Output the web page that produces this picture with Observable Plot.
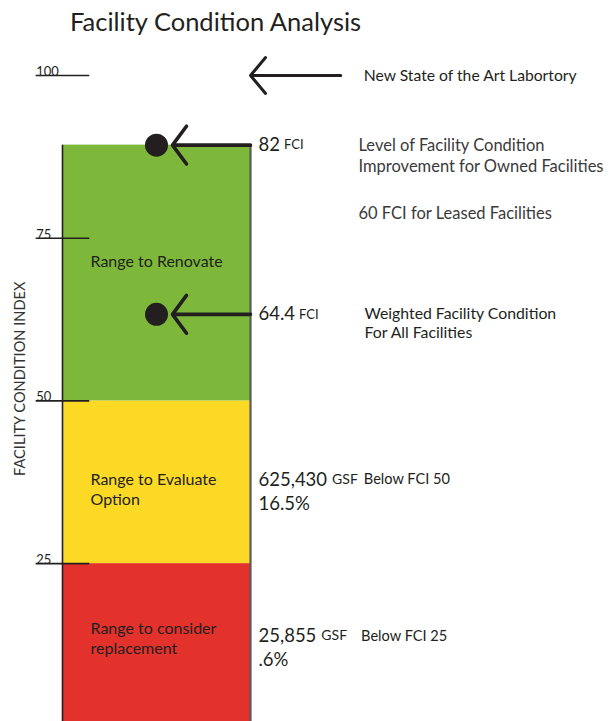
<!DOCTYPE html>
<html><head><meta charset="utf-8">
<script src="https://cdn.jsdelivr.net/npm/d3@7"></script>
<script src="https://cdn.jsdelivr.net/npm/@observablehq/plot@0.6"></script>
<style>
body{margin:0;background:#fff;width:611px;height:721px;overflow:hidden;font-family:Lato,sans-serif;}
#title{height:40px;line-height:42px;font-size:25.5px;padding-left:70px;color:#231f20;white-space:nowrap;overflow:hidden;}
#chart svg{display:block;}
</style></head><body>
<div id="title">Facility Condition Analysis</div>
<div id="chart"></div>
<script>
// ---- data ----
const yTicks = [25, 50, 75, 100];
const axisTitle = "FACILITY CONDITION INDEX";

const bandNames = ["Range to consider\nreplacement", "Range to Evaluate\nOption", "Range to Renovate"];
const bandLow = [0, 25, 50];
const bandHigh = [25, 50, 89.3];          // green band top as drawn
const bandLabelLevel = [14.9, 37.8, 71.3]; // where each band label sits (as drawn)

const topLevel = 100;
const topNote = "New State of the Art Labortory";

const markerFCI = ["82", "64.4"];
const markerLevel = [89.3, 63.3];          // arrow heights as drawn
const markerNotes = ["Level of Facility Condition\nImprovement for Owned Facilities", "Weighted Facility Condition\nFor All Facilities"];
const leasedNote = "60 FCI for Leased Facilities";
const leasedLevel = 78.8;

const gsfValues = ["625,430", "25,855"];
const gsfShares = ["16.5%", ".6%"];
const gsfThresholds = [50, 25];
const gsfLevel = [37.9, 13.9];
const shareLevel = [34.2, 10.1];

// ---- build ----
const ink = "#231f20";
const bandColors = ["#e3322c", "#fcd925", "#7db83b"];
const bands = bandNames.map((name, i) => ({name, lo: bandLow[i], hi: bandHigh[i], at: bandLabelLevel[i], color: bandColors[i]}));
const markers = markerFCI.map((fci, i) => ({fci, level: markerLevel[i], note: markerNotes[i]}));
const gsfRows = gsfValues.map((v, i) => ({v, share: gsfShares[i], thr: gsfThresholds[i], level: gsfLevel[i], shareAt: shareLevel[i]}));

const ctx = document.createElement("canvas").getContext("2d");
const textWidth = (s, size) => { ctx.font = `${size}px Lato`; return ctx.measureText(s).width; };

const bigSize = 18.5, unitSize = 13, noteSize = 16;

const marks = [
  // colour bands
  Plot.rect(bands, {x1: 0, x2: 100, y1: "lo", y2: "hi", fill: "color"}),
  // column edges
  Plot.ruleX([0], {y1: 0, y2: bandHigh[2], stroke: ink, strokeWidth: 1.6}),
  Plot.ruleX([100], {y1: 0, y2: bandHigh[2], stroke: "#5a5a5a", strokeWidth: 2.2}),
  // ticks
  Plot.ruleY(yTicks, {x1: -14, x2: 14.5, stroke: ink, strokeWidth: 1.6}),
  Plot.text(yTicks, {x: -14, y: d => d, text: d => String(d), textAnchor: "start", lineAnchor: "bottom", dy: 0.5, fontSize: 13, fill: ink}),
  Plot.text([axisTitle], {x: -22.3, y: 53.4, text: d => d, rotate: -90, fontSize: 14.6, fill: "#333"}),
  // band labels
  Plot.text(bands, {x: 0, y: "at", text: "name", dx: 28, textAnchor: "start", lineAnchor: "top", dy: -9.5, fontSize: noteSize, lineHeight: 1.25, fill: ink}),
  // top arrow
  Plot.arrow([topLevel], {x1: 148, x2: 100, y1: d => d, y2: d => d, stroke: ink, strokeWidth: 3, headAngle: 100, headLength: 11.7}),
  Plot.text([topNote], {x: 148, y: topLevel, text: d => d, dx: 23, textAnchor: "start", fontSize: 15.7, fill: ink}),
  // markers
  Plot.arrow(markers, {x1: 100, x2: 50, y1: "level", y2: "level", stroke: ink, strokeWidth: 3.6, headAngle: 107, headLength: 9.8, insetEnd: 16}),
  Plot.dot(markers, {x: 50, y: "level", r: 11.5, fill: ink}),
  Plot.text(markers, {x: 100, y: "level", text: "fci", dx: 8, textAnchor: "start", fontSize: bigSize, fill: ink}),
  ...markers.map(m => Plot.text([m], {x: 100, y: "level", text: () => "FCI", dx: 8 + textWidth(m.fci, bigSize) + 4, textAnchor: "start", fontSize: unitSize, fill: ink})),
  Plot.text([markers[0]], {x: 100, y: "level", text: "note", dx: 108, textAnchor: "start", lineAnchor: "top", dy: -9.5, fontSize: 16.5, lineHeight: 1.3, fill: "#3a3a3a"}),
  Plot.text([markers[1]], {x: 100, y: "level", text: "note", dx: 114, textAnchor: "start", lineAnchor: "top", dy: -9.5, fontSize: 15.8, lineHeight: 1.22, fill: ink}),
  Plot.text([leasedNote], {x: 100, y: leasedLevel, text: d => d, dx: 108, textAnchor: "start", fontSize: 16.5, fill: "#3a3a3a"}),
  // GSF rows
  Plot.text(gsfRows, {x: 100, y: "level", text: "v", dx: 8, textAnchor: "start", fontSize: bigSize, fill: ink}),
  Plot.text(gsfRows, {x: 100, y: "shareAt", text: "share", dx: 8, textAnchor: "start", fontSize: bigSize, fill: ink}),
  ...gsfRows.map((r, i) => {
    const gx = 8 + textWidth(r.v, bigSize) + 5;
    const bx = gx + textWidth("GSF", 14) + (i === 0 ? 6 : 14);
    return [
      Plot.text([r], {x: 100, y: "level", text: () => "GSF", dx: gx, textAnchor: "start", fontSize: 14, fill: ink}),
      Plot.text([r], {x: 100, y: "level", text: d => `Below FCI ${d.thr}`, dx: bx, textAnchor: "start", fontSize: 14.6, fill: ink})
    ];
  }).flat()
];

const chart = Plot.plot({
  width: 611,
  height: 681,
  margin: 0,
  x: {domain: [0, 100], range: [62, 250], axis: null},
  y: {domain: [0, 100], range: [685.8, 35], axis: null},
  color: {type: "identity"},
  style: {fontFamily: "Lato, sans-serif", background: "#fff", color: ink},
  marks
});
document.getElementById("chart").append(chart);
</script>
</body></html>
